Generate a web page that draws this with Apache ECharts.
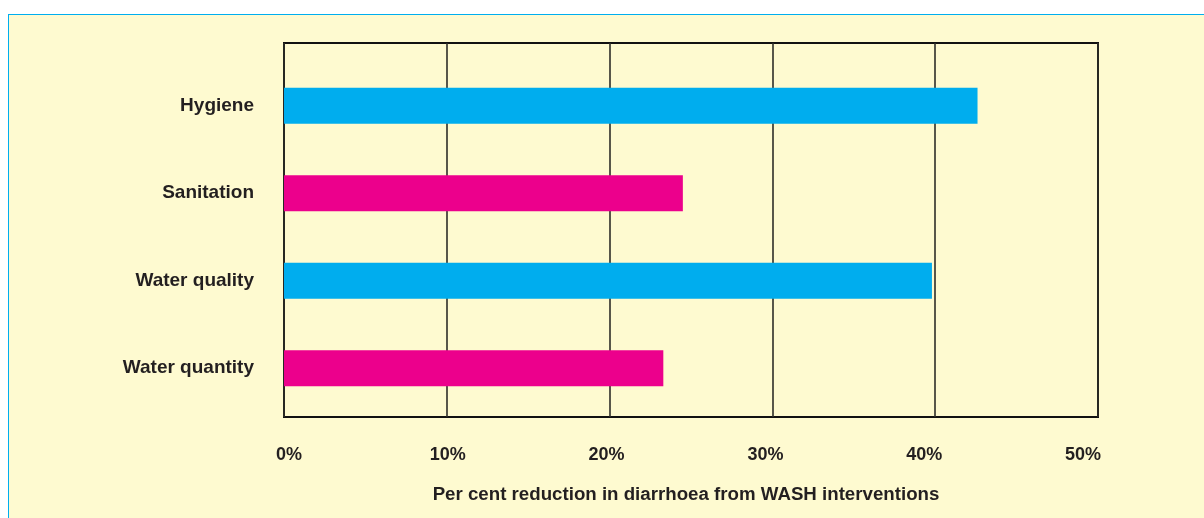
<!DOCTYPE html>
<html>
<head>
<meta charset="utf-8">
<script src="https://cdn.jsdelivr.net/npm/echarts@6/dist/echarts.min.js"></script>
<style>
html,body{margin:0;padding:0;background:#fff;}
#wrap{position:relative;width:1204px;height:518px;overflow:hidden;}
#box{position:absolute;left:8px;top:14px;width:1200px;height:510px;background:#fefad0;border:1px solid #00aeef;box-sizing:border-box;}
#chart{position:absolute;left:0;top:0;width:1204px;height:518px;}
</style>
</head>
<body>
<div id="wrap"><div id="box"></div><div id="chart"></div></div>
<script>
const categories = ['Hygiene', 'Sanitation', 'Water quality', 'Water quantity'];
const values = [42.6, 24.5, 39.8, 23.3];
const tickValues = [0, 10, 20, 30, 40, 50];
const axisTitle = 'Per cent reduction in diarrhoea from WASH interventions';

const palette = ['#00adee', '#ec008c'];
const font = '"Liberation Sans", Arial, Helvetica, sans-serif';
const txt = '#231f20';

const chart = echarts.init(document.getElementById('chart'));
chart.setOption({
  backgroundColor: 'transparent',
  animation: false,
  grid: [
    {left: 284, top: 43, width: 814, height: 374, show: true, borderColor: '#111', borderWidth: 2, backgroundColor: 'transparent'},
    {left: 284, top: 62, width: 814, height: 350},
    {left: 289, top: 43, width: 794, height: 374}
  ],
  xAxis: [
    {gridIndex: 0, type: 'value', min: tickValues[0], max: tickValues[tickValues.length-1], interval: 10,
     axisLine: {show: false}, axisTick: {show: false}, axisLabel: {show: false},
     splitLine: {show: true, lineStyle: {color: '#2e2e28', width: 1.6}}},
    {gridIndex: 1, type: 'value', min: 0, max: 50, show: false},
    {gridIndex: 2, type: 'value', min: tickValues[0], max: tickValues[tickValues.length-1], interval: 10,
     axisLine: {show: false}, axisTick: {show: false}, splitLine: {show: false},
     axisLabel: {formatter: '{value}%', fontFamily: font, fontWeight: 'bold', fontSize: 18, color: txt, margin: 29},
     name: axisTitle, nameLocation: 'middle', nameGap: 68,
     nameTextStyle: {fontFamily: font, fontWeight: 'bold', fontSize: 18.7, color: txt}}
  ],
  yAxis: [
    {gridIndex: 0, type: 'value', show: false},
    {gridIndex: 1, type: 'category', data: categories, inverse: true,
     axisLine: {show: false}, axisTick: {show: false}, splitLine: {show: false},
     axisLabel: {fontFamily: font, fontWeight: 'bold', fontSize: 19, color: txt, margin: 30}},
    {gridIndex: 2, type: 'value', show: false}
  ],
  series: [{
    type: 'bar', xAxisIndex: 1, yAxisIndex: 1, barWidth: 36,
    data: values.map((v, i) => ({value: v, itemStyle: {color: palette[i % 2]}}))
  }]
});
</script>
</body>
</html>
